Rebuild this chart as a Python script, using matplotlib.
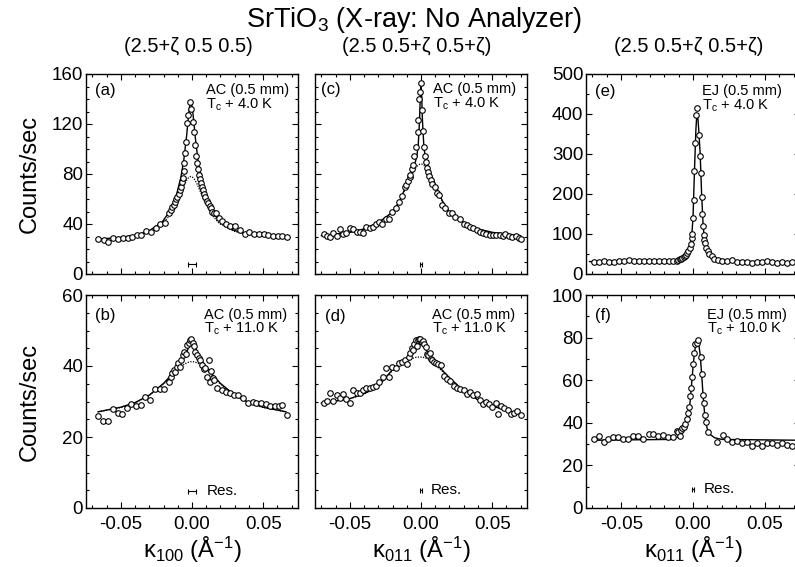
import numpy as np
import matplotlib
matplotlib.use('Agg')
import matplotlib.pyplot as plt
from matplotlib.ticker import MultipleLocator

plt.rcParams['font.family'] = ['Liberation Sans', 'DejaVu Sans']
plt.rcParams['mathtext.fontset'] = 'custom'
plt.rcParams['mathtext.rm'] = 'Liberation Sans'
plt.rcParams['mathtext.it'] = 'Liberation Sans:italic'
plt.rcParams['mathtext.bf'] = 'Liberation Sans:bold'
plt.rcParams['axes.unicode_minus'] = False

# ---------------- data ----------------
a_x = [-0.0658, -0.0621, -0.0588, -0.0553, -0.0519, -0.0484, -0.0453, -0.0419, -0.0388, -0.0356,
       -0.0321, -0.0291, -0.0256, -0.0226, -0.0191,
       -0.0163, -0.0151, -0.0140, -0.0128, -0.0121, -0.0109, -0.0105, -0.0093, -0.0086, -0.0077,
       -0.0067, -0.0063, -0.0058, -0.0053, -0.0047, -0.0042, -0.0035, -0.0026, -0.0014,
       -0.0005, 0.0005, 0.0012, 0.0019, 0.0026, 0.0033, 0.0040, 0.0047, 0.0053, 0.0060, 0.0067,
       0.0077, 0.0084, 0.0093, 0.0105, 0.0114, 0.0123, 0.0135, 0.0144, 0.0156, 0.0170, 0.0188,
       0.0209, 0.0237, 0.0267, 0.0302, 0.0337, 0.0372, 0.0402, 0.0435, 0.0470, 0.0505, 0.0535,
       0.0570, 0.0605, 0.0635, 0.0670]
a_y = [27.8, 27.3, 26.0, 28.5, 28.0, 29.0, 28.5, 29.8, 31.0, 31.6, 34.8, 33.6, 36.6, 39.9, 41.2,
       49.2, 51.3, 53.3, 55.0, 57.6, 59.8, 61.9, 63.9, 66.9, 69.4, 73.5, 76.5, 82.8, 89.0, 96.7,
       105.6, 120.7, 127.5, 137.9,
       132.0, 122.0, 114.0, 103.0, 94.7, 89.0, 84.0, 79.5, 76.0, 72.7, 69.4, 66.9, 64.4, 61.9,
       58.8, 56.8, 54.3, 52.5, 50.0, 49.2, 48.7, 45.0, 42.4, 39.9, 38.6, 38.1, 35.6, 32.3, 33.6,
       32.3, 31.8, 32.3, 31.6, 30.3, 30.6, 30.6, 29.8]
a_fit_x = [-0.0668, -0.0508, -0.0408, -0.0308, -0.0208, -0.0158, -0.0108, -0.0078, -0.0058,
           -0.0038, -0.0028, -0.0018, -0.0008, 0.0002, 0.0012, 0.0022, 0.0042, 0.0062, 0.0092,
           0.0142, 0.0192, 0.0292, 0.0392, 0.0492, 0.0652]
a_solid = [27.8, 29.2, 30.8, 34.0, 41.8, 49.9, 63.8, 77.5, 90.9, 110.4, 122.4, 133.3, 138.0,
           133.3, 122.4, 110.4, 90.9, 77.5, 63.8, 49.9, 42.3, 35.0, 32.0, 30.5, 29.5]
a_dot = [27.7, 29.0, 30.5, 33.3, 40.0, 46.6, 56.9, 64.9, 70.4, 75.0, 76.6, 77.6, 78.0, 77.6,
         76.6, 75.0, 70.4, 64.9, 56.9, 46.8, 40.4, 34.3, 31.5, 30.2, 29.4]

b_x = [-0.0658, -0.0623, -0.0588, -0.0558, -0.0523, -0.0493, -0.0460, -0.0426, -0.0393, -0.0360,
       -0.0328, -0.0295, -0.0260, -0.0228, -0.0195, -0.0163, -0.0151, -0.0140, -0.0128, -0.0116,
       -0.0105, -0.0098, -0.0086, -0.0077, -0.0065, -0.0053, -0.0044, -0.0035, -0.0023, -0.0014,
       -0.0005, 0.0005, 0.0014, 0.0023, 0.0035, 0.0047, 0.0058, 0.0070, 0.0081, 0.0093,
       0.0105, 0.0116, 0.0123, 0.0135, 0.0147, 0.0158, 0.0174, 0.0209, 0.0237, 0.0267,
       0.0295, 0.0326, 0.0360, 0.0395, 0.0426, 0.0453, 0.0488, 0.0519, 0.0551, 0.0581,
       0.0609, 0.0633, 0.0670]
b_y = [26.0, 24.4, 24.6, 27.8, 26.7, 26.4, 28.1, 29.2, 28.8, 29.1,
       31.2, 30.5, 33.6, 33.6, 33.6, 35.6, 37.0, 38.1, 38.9, 38.4,
       39.8, 40.8, 39.6, 41.7, 43.1, 44.0, 43.4, 45.9, 46.4, 47.3,
       47.5, 46.6, 45.6, 44.0, 43.1, 42.2, 41.7, 40.3, 39.1, 39.4,
       37.0, 41.7, 35.6, 38.7, 36.6, 36.1, 33.7, 33.3, 32.8, 32.3,
       31.9, 31.9, 30.9, 29.5, 30.0, 29.7, 29.5, 29.3, 28.8, 28.6,
       28.8, 29.1, 26.2]
b_fit_x = [-0.066, -0.05, -0.04, -0.03, -0.02, -0.015, -0.01, -0.007, -0.005, -0.003, -0.002,
           -0.001, 0.0, 0.001, 0.002, 0.003, 0.005, 0.007, 0.01, 0.015, 0.02, 0.03, 0.04, 0.05,
           0.066]
b_solid = [27.1, 28.4, 29.7, 31.8, 35.1, 37.3, 39.8, 41.4, 42.8, 44.6, 45.7, 46.5, 46.9, 46.5,
           45.7, 44.6, 42.8, 41.4, 39.8, 37.3, 35.1, 31.8, 29.7, 28.4, 27.1]
b_dot = [27.1, 28.3, 29.6, 31.7, 34.9, 36.9, 39.0, 40.0, 40.6, 41.0, 41.1, 41.2, 41.2, 41.2,
         41.1, 41.0, 40.6, 40.0, 39.0, 36.9, 34.9, 31.7, 29.6, 28.3, 27.1]

c_x = [-0.0685, -0.0662, -0.0639, -0.0616, -0.0593, -0.0568, -0.0547, -0.0524, -0.0499, -0.0476,
       -0.0453, -0.0430, -0.0407, -0.0386, -0.0361, -0.0338, -0.0315, -0.0294, -0.0271, -0.0246,
       -0.0223, -0.0202, -0.0179, -0.0156, -0.0133, -0.0115, -0.0103, -0.0092, -0.0080, -0.0074,
       -0.0064, -0.0053, -0.0046, -0.0034, -0.0023, -0.0018, -0.0011, -0.0007, -0.0002, 0.0005,
       0.0011, 0.0018, 0.0028, 0.0034, 0.0041, 0.0050, 0.0057, 0.0069, 0.0080, 0.0097,
       0.0110, 0.0126, 0.0145, 0.0172, 0.0195, 0.0218, 0.0241, 0.0276, 0.0299, 0.0322,
       0.0345, 0.0368, 0.0391, 0.0414, 0.0437, 0.0460, 0.0483, 0.0506, 0.0529, 0.0552,
       0.0575, 0.0593, 0.0616, 0.0639, 0.0667, 0.0690, 0.0706]
c_y = [32.0, 30.7, 29.7, 32.7, 30.2, 36.0, 32.0, 32.7, 36.5, 35.8,
       34.0, 34.0, 32.7, 37.8, 36.5, 37.8, 39.8, 41.6, 40.3, 44.1,
       44.1, 49.6, 52.9, 57.9, 62.2, 69.3, 71.0, 74.3, 78.0, 79.3,
       84.4, 87.4, 94.5, 102.0, 114.0, 123.4, 139.8, 146.0, 153.0, 131.0,
       114.6, 102.0, 94.5, 89.4, 84.9, 81.9, 78.8, 75.6, 72.3, 69.3,
       64.7, 63.0, 55.4, 52.9, 49.1, 49.1, 45.8, 44.1, 40.3, 39.0,
       37.8, 36.5, 35.3, 34.0, 32.7, 32.0, 31.5, 31.5, 31.0, 31.0,
       30.2, 32.0, 30.2, 29.5, 30.2, 29.0, 28.2]
c_fit_x = [-0.07, -0.05, -0.04, -0.03, -0.02, -0.015, -0.01, -0.007, -0.005, -0.003, -0.002,
           -0.001, -0.0005, 0.0, 0.0005, 0.001, 0.002, 0.003, 0.005, 0.007, 0.01, 0.015, 0.02,
           0.03, 0.04, 0.05, 0.07]
c_solid = [30.7, 33.3, 36.1, 41.1, 49.5, 58.5, 71.8, 79.9, 85.6, 93.7, 102.2, 123.4, 141.8,
           153.0, 141.8, 123.4, 102.2, 93.7, 85.6, 79.9, 71.8, 58.5, 49.5, 41.1, 36.1, 33.3, 30.7]
c_dot = [30.7, 33.3, 36.0, 41.0, 49.3, 58.2, 71.0, 78.3, 82.6, 86.0, 87.1, 87.8, 87.9, 88.0,
         87.9, 87.8, 87.1, 86.0, 82.6, 78.3, 71.0, 58.2, 49.3, 41.0, 36.0, 33.3, 30.7]

d_x = [-0.0685, -0.0662, -0.0639, -0.0616, -0.0593, -0.0570, -0.0547, -0.0524, -0.0501, -0.0476,
       -0.0453, -0.0430, -0.0407, -0.0384, -0.0361, -0.0338, -0.0315, -0.0292, -0.0269, -0.0246,
       -0.0225, -0.0202, -0.0179, -0.0156, -0.0133, -0.0115, -0.0101, -0.0087, -0.0074, -0.0064,
       -0.0055, -0.0046, -0.0037, -0.0028, -0.0018, -0.0011, -0.0005, 0.0005, 0.0014, 0.0023,
       0.0032, 0.0041, 0.0051, 0.0060, 0.0069, 0.0080, 0.0092, 0.0106, 0.0119, 0.0143,
       0.0161, 0.0184, 0.0207, 0.0230, 0.0253, 0.0276, 0.0299, 0.0322, 0.0345, 0.0368,
       0.0391, 0.0414, 0.0437, 0.0455, 0.0478, 0.0501, 0.0524, 0.0540, 0.0563, 0.0586,
       0.0609, 0.0632, 0.0655, 0.0678, 0.0701]
d_y = [29.5, 30.2, 32.3, 30.1, 31.7, 31.0, 32.1, 30.7, 29.7, 33.1,
       32.3, 32.3, 33.1, 33.7, 33.8, 34.2, 34.5, 35.4, 36.9, 39.5,
       36.9, 39.7, 39.5, 40.8, 41.1, 41.8, 40.6, 42.5, 43.7, 45.2,
       44.6, 46.3, 47.3, 45.6, 47.3, 47.7, 47.5, 46.8, 47.0, 46.3,
       45.4, 43.3, 43.0, 43.7, 42.1, 41.6, 41.1, 40.8, 40.5, 40.4,
       37.3, 36.4, 35.7, 34.5, 33.8, 33.6, 33.1, 32.1, 32.6, 31.7,
       32.1, 30.4, 29.3, 29.8, 29.3, 28.4, 29.5, 26.5, 28.8, 28.1,
       27.6, 26.5, 26.9, 27.4, 26.2]
d_fit_x = [-0.07, -0.05, -0.04, -0.03, -0.02, -0.015, -0.01, -0.007, -0.005, -0.003, -0.002,
           -0.001, 0.0, 0.001, 0.002, 0.003, 0.005, 0.007, 0.01, 0.015, 0.02, 0.03, 0.04, 0.05,
           0.07]
d_solid = [29.5, 30.8, 32.2, 34.3, 39.0, 40.4, 41.6, 42.8, 43.8, 45.1, 45.9, 46.6, 46.8, 46.5,
           45.8, 45.0, 43.6, 42.5, 41.0, 38.8, 36.7, 33.0, 30.5, 28.7, 26.5]
d_dot = [29.5, 30.8, 32.1, 34.2, 38.8, 40.2, 41.4, 42.0, 42.3, 42.5, 42.5, 42.5, 42.5, 42.5,
         42.4, 42.3, 41.9, 41.4, 40.4, 38.5, 36.5, 33.0, 30.4, 28.7, 26.5]

e_x = [-0.0692, -0.0657, -0.0623, -0.0586, -0.0552, -0.0517, -0.0483, -0.0444, -0.0409, -0.0375,
       -0.0340, -0.0306, -0.0271, -0.0237, -0.0202, -0.0168, -0.0136, -0.0113, -0.0101, -0.0092,
       -0.0083, -0.0074, -0.0064, -0.0055, -0.0046, -0.0039, -0.0032, -0.0023, -0.0016, -0.0009,
       -0.0005, 0.0000, 0.0005, 0.0009, 0.0014, 0.0018, 0.0028, 0.0041, 0.0048, 0.0055,
       0.0060, 0.0064, 0.0069, 0.0074, 0.0078, 0.0085, 0.0092, 0.0101, 0.0113, 0.0129,
       0.0147, 0.0175, 0.0205, 0.0239, 0.0274, 0.0308, 0.0343, 0.0377, 0.0411, 0.0446,
       0.0480, 0.0515, 0.0549, 0.0584, 0.0618, 0.0653, 0.0687]
e_y = [29.5, 31.0, 32.0, 31.0, 29.5, 32.0, 32.0, 35.0, 33.0, 32.0,
       32.0, 32.0, 33.0, 32.0, 32.0, 33.0, 33.0, 33.5, 35.0, 36.7,
       38.3, 39.9, 43.0, 45.5, 47.8, 51.8, 57.4, 65.4, 75.0, 89.3,
       101.0, 139.6, 185.0, 258.0, 328.5, 398.7, 414.7, 347.7, 295.0, 252.8,
       191.4, 149.0, 121.0, 97.3, 85.3, 77.4, 65.4, 57.4, 51.0, 45.5,
       37.5, 35.1, 33.5, 31.9, 35.1, 30.3, 31.1, 29.5, 28.7, 31.1,
       29.5, 31.9, 29.5, 28.7, 29.5, 28.7, 29.5]
e_fit_x = [-0.072, -0.02, -0.012, -0.008, -0.005, -0.003, -0.002, -0.001, 0.0, 0.001, 0.002,
           0.0025, 0.003, 0.0035, 0.004, 0.005, 0.006, 0.007, 0.008, 0.009, 0.010, 0.012, 0.015,
           0.02, 0.03, 0.076]
e_solid = [31.0, 32.0, 33.0, 37.0, 45.0, 57.0, 68.0, 90.0, 140.0, 255.0, 360.0, 390.0, 396.0,
           385.0, 360.0, 300.0, 200.0, 125.0, 85.0, 67.0, 57.0, 47.0, 39.0, 34.0, 31.5, 30.5]

f_x = [-0.0692, -0.0657, -0.0623, -0.0589, -0.0554, -0.0520, -0.0485, -0.0451, -0.0416, -0.0382,
       -0.0347, -0.0308, -0.0278, -0.0244, -0.0209, -0.0175, -0.0140, -0.0113, -0.0101, -0.0092,
       -0.0083, -0.0074, -0.0064, -0.0053, -0.0044, -0.0037, -0.0030, -0.0023, -0.0016, -0.0009,
       -0.0002, 0.0007, 0.0016, 0.0025, 0.0037, 0.0053, 0.0062, 0.0069, 0.0076, 0.0083,
       0.0092, 0.0106, 0.0170, 0.0209, 0.0239, 0.0274, 0.0308, 0.0343, 0.0377, 0.0411,
       0.0446, 0.0480, 0.0515, 0.0549, 0.0584, 0.0618, 0.0653, 0.0687]
f_y = [32.6, 33.9, 31.0, 32.3, 33.4, 33.4, 32.3, 32.6, 33.9, 33.9,
       32.3, 34.7, 34.7, 33.9, 34.2, 33.5, 33.1, 36.3, 35.5, 33.9,
       36.8, 37.4, 37.9, 39.5, 41.6, 44.4, 47.6, 52.4, 56.5, 61.6,
       67.7, 72.6, 77.1, 77.4, 79.0, 71.0, 62.9, 53.2, 49.2, 43.5,
       40.3, 35.5, 31.1, 34.2, 32.6, 31.0, 31.5, 30.6, 31.0, 29.0,
       30.6, 29.0, 30.6, 30.6, 29.8, 30.6, 29.4, 29.0]
f_fit_x = [-0.070, -0.015, -0.01, -0.007, -0.005, -0.003, -0.002, -0.001, 0.0, 0.001, 0.002,
           0.003, 0.004, 0.005, 0.006, 0.007, 0.008, 0.009, 0.010, 0.012, 0.015, 0.02, 0.076]
f_solid = [31.8, 32.2, 33.5, 35.5, 38.5, 45.0, 50.0, 58.0, 66.0, 73.0, 77.0, 78.5, 77.0, 72.0,
           63.0, 53.0, 45.0, 40.0, 37.0, 34.5, 33.0, 32.2, 31.8]

# resolution bars
res_panels = ['a', 'b', 'c', 'd', 'f']
res_x = [0.0, 0.0, 0.0, 0.0, 0.0]
res_y = [8.0, 4.8, 8.0, 5.0, 9.0]
res_hw = [0.003, 0.003, 0.001, 0.001, 0.001]
res_label_panels = ['b', 'd', 'f']

panel_letters = ['(a)', '(b)', '(c)', '(d)', '(e)', '(f)']
sample_text = ['AC (0.5 mm)', 'AC (0.5 mm)', 'AC (0.5 mm)', 'AC (0.5 mm)', 'EJ (0.5 mm)', 'EJ (0.5 mm)']
temp_text = ['T$_\\mathrm{c}$ + 4.0 K', 'T$_\\mathrm{c}$ + 11.0 K', 'T$_\\mathrm{c}$ + 4.0 K',
             'T$_\\mathrm{c}$ + 11.0 K', 'T$_\\mathrm{c}$ + 4.0 K', 'T$_\\mathrm{c}$ + 10.0 K']
ylims = [160, 60, 160, 60, 500, 100]
ymajor = [40, 20, 40, 20, 100, 20]
yminor = [10, 5, 10, 5, 50, 10]
col_titles = ['(2.5+\u03b6 0.5 0.5)', '(2.5 0.5+\u03b6 0.5+\u03b6)', '(2.5 0.5+\u03b6 0.5+\u03b6)']
x_labels = ['\u03ba$_{\\mathrm{100}}$ (\u00c5$^{\\mathrm{-1}}$)',
            '\u03ba$_{\\mathrm{011}}$ (\u00c5$^{\\mathrm{-1}}$)',
            '\u03ba$_{\\mathrm{011}}$ (\u00c5$^{\\mathrm{-1}}$)']

# ---------------- figure ----------------
W, H = 795, 567
fig = plt.figure(figsize=(W / 100, H / 100), dpi=100)


def axpos(l, r, t, b):
    return [l / W, 1 - b / H, (r - l) / W, (b - t) / H]


cols = [(86, 298), (315, 527), (586, 800)]
rows = [(74, 274), (295, 508)]
series = {
    'a': (a_x, a_y, a_fit_x, a_solid, a_dot),
    'b': (b_x, b_y, b_fit_x, b_solid, b_dot),
    'c': (c_x, c_y, c_fit_x, c_solid, c_dot),
    'd': (d_x, d_y, d_fit_x, d_solid, d_dot),
    'e': (e_x, e_y, e_fit_x, e_solid, None),
    'f': (f_x, f_y, f_fit_x, f_solid, None),
}
keys = ['a', 'b', 'c', 'd', 'e', 'f']
letter_pos = [(0.042, 0.955), (0.042, 0.94), (0.03, 0.96), (0.045, 0.935), (0.042, 0.95), (0.042, 0.94)]
text_pos = [(0.568, 0.955), (0.555, 0.94), (0.556, 0.96), (0.552, 0.94), (0.54, 0.95), (0.566, 0.94)]
res_text_x = {'b': 0.0105, 'd': 0.0066, 'f': 0.0076}

for i, k in enumerate(keys):
    ci, ri = i // 2, i % 2
    ax = fig.add_axes(axpos(cols[ci][0], cols[ci][1], rows[ri][0], rows[ri][1]))
    x, y, fx, fs, fd = series[k]
    if fd is not None:
        ax.plot(fx, fd, color='k', lw=0.9, ls=(0, (1, 1.1)), zorder=2)
    ax.plot(fx, fs, color='k', lw=1.0, zorder=3)
    ax.plot(x, y, 'o', ms=4.0, mfc='white', mec='k', mew=0.8, zorder=4, clip_on=False)
    if k in res_panels:
        j = res_panels.index(k)
        ax.errorbar([res_x[j]], [res_y[j]], xerr=[res_hw[j]], fmt='none', ecolor='k',
                    elinewidth=0.8, capsize=1.8, capthick=0.8)
        if k in res_label_panels:
            ax.text(res_text_x[k], res_y[j], 'Res.', fontsize=11, va='center', ha='left')
    ax.set_xlim(-0.0745, 0.0745)
    ax.set_ylim(0, ylims[i])
    ax.xaxis.set_major_locator(MultipleLocator(0.05))
    ax.xaxis.set_minor_locator(MultipleLocator(0.01))
    ax.yaxis.set_major_locator(MultipleLocator(ymajor[i]))
    ax.yaxis.set_minor_locator(MultipleLocator(yminor[i]))
    ax.tick_params(which='both', direction='in', top=True, right=True, width=0.8)
    ax.tick_params(which='major', length=4.5, labelsize=13.5)
    ax.tick_params(which='minor', length=2.2)
    ax.tick_params(axis='y', pad=2)
    ax.tick_params(axis='x', pad=6)
    for s in ax.spines.values():
        s.set_linewidth(1.0)
    ax.xaxis.set_major_formatter(matplotlib.ticker.FormatStrFormatter('%.2f'))
    if ri == 0:
        ax.tick_params(labelbottom=False)
    if ci == 1:
        ax.tick_params(labelleft=False)
    ax.text(letter_pos[i][0], letter_pos[i][1], panel_letters[i], transform=ax.transAxes,
            fontsize=12, va='top', ha='left')
    ax.annotate(sample_text[i], xy=text_pos[i], xycoords='axes fraction', fontsize=10.5,
                va='top', ha='left')
    ax.annotate(temp_text[i], xy=text_pos[i], xycoords='axes fraction', xytext=(0, -9.5),
                textcoords='offset points', fontsize=10.5, va='top', ha='left')

fig.text(414 / W, 1 - 20 / H, 'SrTiO$_\\mathrm{3}$ (X-ray: No Analyzer)', fontsize=19.5,
         ha='center', va='center')
for ci, t in enumerate(col_titles):
    cx = (cols[ci][0] + cols[ci][1]) / 2 - 4
    fig.text(cx / W, 1 - 47 / H, t, fontsize=14.5, ha='center', va='center')
    fig.text((cx + 4) / W, 1 - 558 / H, x_labels[ci], fontsize=17, ha='center', va='baseline')
for r in rows:
    fig.text(30 / W, 1 - ((r[0] + r[1]) / 2) / H, 'Counts/sec', fontsize=17, rotation=90,
             ha='center', va='center')

fig.savefig('out.png', dpi=100)
